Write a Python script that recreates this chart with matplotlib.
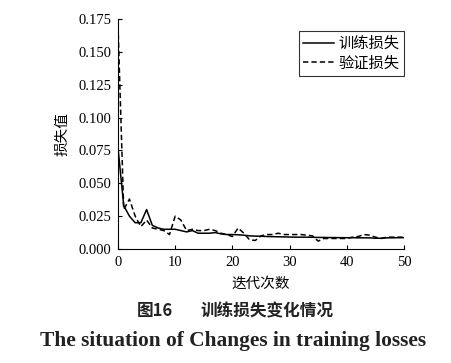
import matplotlib
matplotlib.use('Agg')
import matplotlib.pyplot as plt

plt.rcParams['font.family'] = ['Liberation Serif', 'Noto Sans CJK SC']

epochs = list(range(0, 51))
train_loss = [0.077, 0.033, 0.025, 0.020, 0.020, 0.030, 0.018, 0.016, 0.015, 0.015,
              0.015, 0.014, 0.013, 0.014, 0.012, 0.012, 0.012, 0.0125, 0.0115, 0.011,
              0.011, 0.0108, 0.0105, 0.010, 0.0098, 0.0097, 0.0095, 0.0094, 0.0093, 0.0092,
              0.0091, 0.009, 0.009, 0.009, 0.0089, 0.0088, 0.0088, 0.0087, 0.0087, 0.0086,
              0.0086, 0.0086, 0.0085, 0.0085, 0.0085, 0.0082, 0.0082, 0.0085, 0.0085, 0.0086,
              0.0086]
val_loss = [0.170, 0.030, 0.038, 0.025, 0.017, 0.022, 0.016, 0.015, 0.014, 0.011,
            0.025, 0.022, 0.014, 0.015, 0.014, 0.014, 0.015, 0.014, 0.012, 0.011,
            0.0095, 0.016, 0.012, 0.007, 0.0065, 0.010, 0.011, 0.011, 0.012, 0.011,
            0.011, 0.011, 0.011, 0.0105, 0.010, 0.006, 0.008, 0.008, 0.008, 0.008,
            0.008, 0.009, 0.0095, 0.011, 0.0105, 0.009, 0.008, 0.009, 0.009, 0.009,
            0.009]
x_ticks = [0, 10, 20, 30, 40, 50]
y_ticks = [0.000, 0.025, 0.050, 0.075, 0.100, 0.125, 0.150, 0.175]

fig = plt.figure(figsize=(4.51, 3.63), dpi=100)
ax = fig.add_axes([118 / 451, 1 - 249 / 363, (404 - 118) / 451, (249 - 19) / 363])

# training / validation curves
ax.plot(epochs, train_loss, color='black', linewidth=1.1, label='训练损失')
ax.plot(epochs, val_loss, color='black', linewidth=1.1, linestyle='--', dashes=(3.5, 2), label='验证损失')

ax.set_xlim(0, 50)
ax.set_ylim(0, 0.175)
ax.set_xticks(x_ticks)
ax.set_yticks(y_ticks)
ax.set_yticklabels(['%.3f' % v for v in y_ticks])
ax.tick_params(direction='in', length=3, width=0.8, labelsize=10.5, pad=5)
ax.spines['top'].set_visible(False)
ax.spines['right'].set_visible(False)

ax.set_xlabel('迭代次数', family=['Noto Sans CJK SC'], fontsize=10.5, labelpad=6)
ax.set_ylabel('损失值', family=['Noto Sans CJK SC'], fontsize=10.5, labelpad=6)

leg = ax.legend(loc='upper right', bbox_to_anchor=(1.0, 0.95), prop={'family': 'Noto Sans CJK SC', 'size': 11},
                frameon=True, fancybox=False, edgecolor='black', handlelength=2.0, handletextpad=0.3,
                borderpad=0.3, labelspacing=0.15, borderaxespad=0.0)
leg.get_frame().set_linewidth(0.8)

# captions
fig.text(155 / 451, 1 - 311 / 363, '图16', ha='center', va='center',
         family=['Noto Sans CJK SC'], fontsize=12, fontweight='bold', color='#222222')
fig.text(267 / 451, 1 - 311 / 363, '训练损失变化情况', ha='center', va='center',
         family=['Noto Sans CJK SC'], fontsize=12, fontweight='bold', color='#222222')
fig.text(233 / 451, 1 - 341 / 363, 'The situation of Changes in training losses', ha='center', va='center',
         family=['Liberation Serif'], fontsize=15.4, fontweight='bold', color='#222222')

fig.savefig('out.png', dpi=100)
